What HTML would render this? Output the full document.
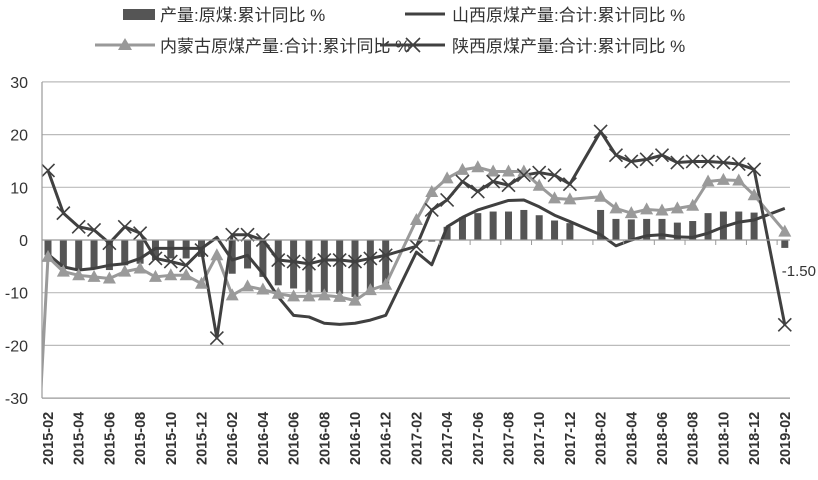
<!DOCTYPE html>
<html><head><meta charset="utf-8"><style>
html,body{margin:0;padding:0;background:#fff;width:818px;height:480px;overflow:hidden;}
svg{display:block;font-family:"Liberation Sans","Noto Sans CJK SC",sans-serif;}
</style></head><body>
<svg id="chart" width="818" height="480" viewBox="0 0 818 480" xmlns="http://www.w3.org/2000/svg">
<defs><clipPath id="plotclip"><rect x="42" y="60" width="760" height="340"/></clipPath></defs>
<g id="grid"></g><g id="bars"></g><g id="lines" clip-path="url(#plotclip)"></g><g id="axes"></g>
<g id="legend">
  <rect x="123" y="9" width="32" height="11" fill="#555"/>
  <text x="160" y="21" font-size="17" fill="#333">产量:原煤:累计同比 %</text>
  <line x1="405" y1="14" x2="445" y2="14" stroke="#404040" stroke-width="3"/>
  <text x="452" y="21" font-size="17" fill="#333">山西原煤产量:合计:累计同比 %</text>
  <line x1="95" y1="45" x2="155" y2="45" stroke="#999" stroke-width="3"/>
  <polygon points="125,38 132,50 118,50" fill="#999"/>
  <text x="160" y="52" font-size="17" fill="#333">内蒙古原煤产量:合计:累计同比 %</text>
  <line x1="380" y1="45" x2="445" y2="45" stroke="#404040" stroke-width="3"/>
  <path d="M406,38 L420,52 M420,38 L406,52" stroke="#404040" stroke-width="1.6"/>
  <text x="452" y="52" font-size="17" fill="#333">陕西原煤产量:合计:累计同比 %</text>
</g>
</svg>
<script>
const months = [];
for (let y = 2015, m = 2; months.length < 49; ) { months.push(y + '-' + String(m).padStart(2, '0')); m++; if (m > 12) { m = 1; y++; } }
const yTicks = [30, 20, 10, 0, -10, -20, -30];
const nationalBars = [-2.9,-5.1,-5.4,-5.4,-5.7,-4.8,-4.5,-3.8,-3.5,-3.5,-3.2,null,-6.4,-5.4,-7,-8.6,-9.2,-9.9,-9.9,-10.2,-10.8,-9.5,-8.3,null,null,-0.3,2.5,4.3,5.1,5.4,5.4,5.7,4.7,3.7,3.2,null,5.7,4,3.9,4,4,3.3,3.6,5.1,5.4,5.4,5.2,null,-1.5];
const shanxi = [-2.7,-5.1,-5.7,-5.4,-4.8,-4.5,-3.5,-1.6,-1.6,-1.6,-1.6,0.5,-3.8,-2.9,-6.4,-10.8,-14.3,-14.6,-15.8,-16,-15.8,-15.2,-14.3,null,-2.3,-4.7,2.5,4.3,5.7,6.6,7.5,7.6,6.3,4.7,3.5,null,1,-1.1,0,0.8,1,0.6,0.5,1.3,2.5,3.4,3.8,null,6];
const innerMongolia = [-3.2,-6,-6.7,-7,-7.3,-6,-5.4,-7,-6.7,-6.7,-8.3,-2.9,-10.5,-8.8,-9.4,-10.2,-10.7,-10.7,-10.5,-10.8,-11.5,-9.5,-8.5,null,3.8,9.1,11.7,13.3,13.8,13,13,13,10.3,7.9,7.7,null,8.2,6,5.1,5.8,5.6,6,6.5,11.1,11.4,11.3,8.5,null,1.6];
const shaanxi = [13.2,5.1,2.5,1.9,-0.6,2.5,1.3,-3.5,-4.1,-4.8,-1.9,-18.6,1,1,0,-3.8,-4.1,-4.5,-3.8,-3.8,-4.1,-3.5,-2.9,null,-1.2,5.7,7.6,11.1,9.2,11.1,10.4,12.3,12.8,12.3,10.6,null,20.6,16.1,14.9,15.3,16.1,14.7,14.9,14.9,14.7,14.4,13.4,null,-16.1];
const innerMongoliaLead = -58;

const NS = 'http://www.w3.org/2000/svg';
const X0 = 48, DX = 15.35, Y0 = 240, PX = 5.27;
const xs = i => X0 + i * DX;
const ys = v => Y0 - v * PX;
function mk(tag, attrs, parent) { const e = document.createElementNS(NS, tag); for (const k in attrs) e.setAttribute(k, attrs[k]); parent.appendChild(e); return e; }

const grid = document.getElementById('grid');
const axes = document.getElementById('axes');
yTicks.forEach(t => {
  if (t !== 0 && t !== -30) {
    const gl = mk('line', {x1: 42, x2: 790, y1: ys(t), y2: ys(t), stroke: '#bbb', 'stroke-width': 1.2}, grid);
    
    
  }
  const tl = mk('text', {x: 28, y: ys(t) + 6, 'text-anchor': 'end', 'font-size': 16, fill: '#333'}, axes);
  tl.textContent = t;
  
  
});
const xa = mk('line', {x1: 42, x2: 790, y1: ys(-30), y2: ys(-30), stroke: '#999', 'stroke-width': 1.2}, axes);


const za = mk('line', {x1: 42, x2: 790, y1: Y0, y2: Y0, stroke: '#999', 'stroke-width': 1.2}, axes);


const ya = mk('line', {x1: 42, x2: 42, y1: 82, y2: ys(-30), stroke: '#999', 'stroke-width': 1.2}, axes);


months.forEach((m, i) => {
  if (i % 2 === 0) {
    const tx = xs(i) + 5, ty = 465;
    const lab = mk('text', {x: tx, y: ty, transform: `rotate(-90 ${tx} ${ty})`, 'font-size': 14.5, 'font-weight': 'bold', fill: '#333'}, axes);
    lab.textContent = m;
    
    
  }
  if (i > 24 && i % 2 === 1) {
    const tk = mk('line', {x1: xs(i) + DX / 2, x2: xs(i) + DX / 2, y1: Y0, y2: Y0 + 5, stroke: '#999'}, axes);
    
    
  }
});

const bars = document.getElementById('bars');
nationalBars.forEach((v, i) => {
  if (v === null) return;
  const y1 = Math.min(ys(v), Y0), h = Math.abs(ys(v) - Y0);
  const b = mk('rect', {x: xs(i) - 3.5, y: y1, width: 7, height: Math.max(h, 1), fill: '#555'}, bars);
  
  
});
const lastIdx = nationalBars.length - 1;
const vl = mk('text', {x: xs(lastIdx) - 3, y: ys(nationalBars[lastIdx]) + 28, 'font-size': 15, fill: '#333'}, axes);
vl.textContent = nationalBars[lastIdx].toFixed(2);



const lines = document.getElementById('lines');
function pts(arr) { const p = []; arr.forEach((v, i) => { if (v !== null) p.push([xs(i), ys(v)]); }); return p; }
function drawLine(arr, color, name, lead) {
  const p = pts(arr);
  if (lead !== undefined) p.unshift([xs(-1), ys(lead)]);
  const pl = mk('polyline', {points: p.map(q => q.join(',')).join(' '), fill: 'none', stroke: color, 'stroke-width': 3, 'stroke-linejoin': 'round'}, lines);
  
  
}
drawLine(shanxi, '#404040', 'line-shanxi');
drawLine(innerMongolia, '#9a9a9a', 'line-innermongolia', innerMongoliaLead);
drawLine(shaanxi, '#404040', 'line-shaanxi');
innerMongolia.forEach((v, i) => {
  if (v === null) return;
  const x = xs(i), y = ys(v);
  const t = mk('polygon', {points: `${x},${y - 7} ${x + 6.5},${y + 5} ${x - 6.5},${y + 5}`, fill: '#9a9a9a'}, lines);
  
  
});
shaanxi.forEach((v, i) => {
  if (v === null) return;
  const x = xs(i), y = ys(v);
  const c = mk('path', {d: `M${x - 6.5},${y - 6.5} L${x + 6.5},${y + 6.5} M${x + 6.5},${y - 6.5} L${x - 6.5},${y + 6.5}`, stroke: '#404040', 'stroke-width': 1.6}, lines);
  
  
});
</script>
</body></html>
